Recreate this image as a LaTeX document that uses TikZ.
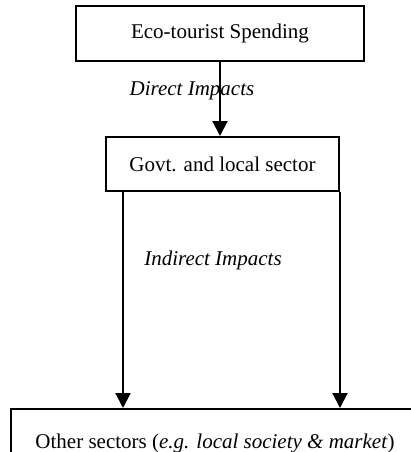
\documentclass[tikz,border=0pt]{standalone}
\usepackage{fontspec}
\setmainfont{Liberation Serif}
\usetikzlibrary{positioning,arrows.meta}

\tikzset{
  sector/.style={draw, line width=2pt, minimum height=54pt, inner sep=0pt},
  impact/.style={font=\fontsize{21}{25}\selectfont\itshape},
  flow/.style={line width=2pt, -{Triangle[length=15pt,width=15pt]}}
}

\begin{document}
\begin{tikzpicture}[x=1pt, y=1pt, font=\fontsize{21}{25}\selectfont]
  \useasboundingbox (0,0) rectangle (410,-452);

  \node[sector, minimum width=288pt, minimum height=55pt] (spend) at (220,-33.5) {Eco-tourist Spending};
  \node[sector, minimum width=233pt, below=74pt of spend, xshift=2.5pt] (govt) {Govt. and local sector};
  \node[sector, minimum width=408pt, minimum height=68pt, below=216pt of govt, xshift=-7.5pt] (other)
    {Other sectors (\textit{e.g. local society \& market})};

  \node[impact] (direct) at (192,-91) {Direct Impacts};
  \node[impact] (indirect) at (213,-260) {Indirect Impacts};

  \coordinate[xshift=18pt] (gleft) at (govt.south west);

  \draw[flow] (spend.south) -- (spend.south |- govt.north);
  \draw[flow] (gleft) -- (gleft |- other.north);
  \draw[flow] (govt.south east) -- (govt.south east |- other.north);
\end{tikzpicture}
\end{document}
